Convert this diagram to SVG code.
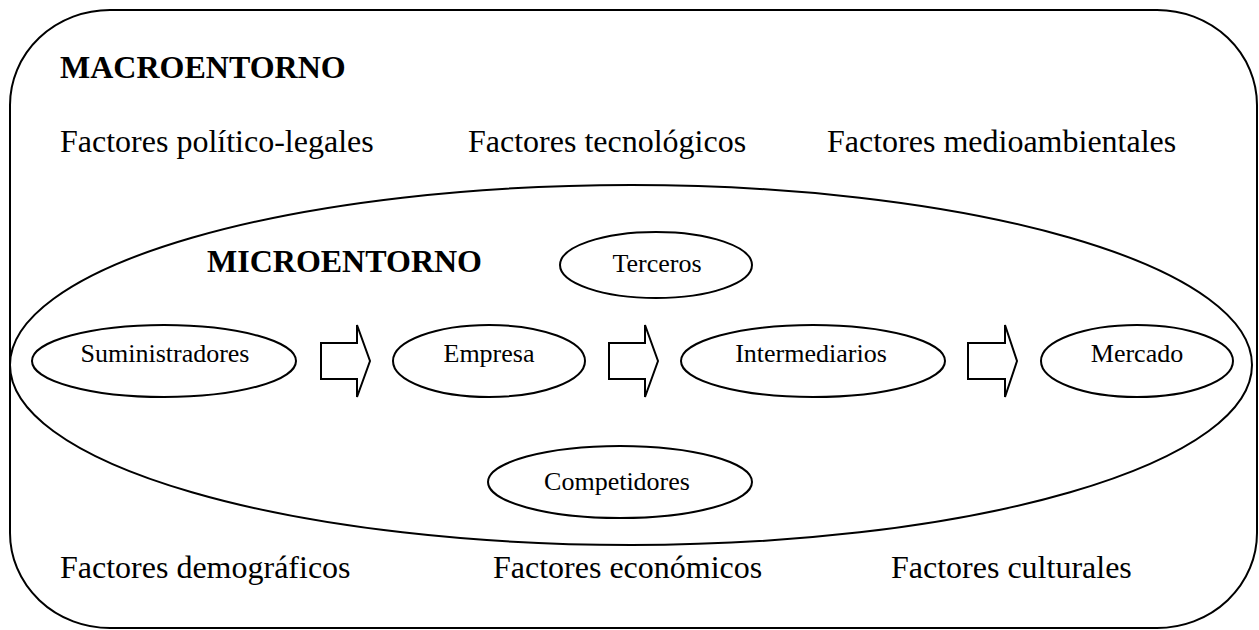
<svg xmlns="http://www.w3.org/2000/svg" width="1259" height="630" viewBox="0 0 1259 630">
<style>
.ln{fill:none;stroke:#000;stroke-width:2}
.nd{fill:#fff;stroke:#000;stroke-width:2}
.big{font-family:"Liberation Serif","Times New Roman",serif;font-size:32px;fill:#000}
.bold{font-weight:bold}
.sm{font-family:"Liberation Serif","Times New Roman",serif;font-size:26px;fill:#000;text-anchor:middle}
</style>
<rect width="1259" height="630" fill="#fff"/>
<g id="macroentorno">
<rect class="ln" x="10" y="10" width="1247" height="618" rx="100" ry="95"/>
<text class="big bold" x="60" y="78">MACROENTORNO</text>
<text class="big" x="60" y="152">Factores político-legales</text>
<text class="big" x="468" y="152">Factores tecnológicos</text>
<text class="big" x="827" y="152">Factores medioambientales</text>
<text class="big" x="60" y="578">Factores demográficos</text>
<text class="big" x="493" y="578">Factores económicos</text>
<text class="big" x="891" y="578">Factores culturales</text>
</g>
<g id="microentorno">
<ellipse class="ln" cx="631" cy="365" rx="621" ry="180"/>
<text class="big bold" x="207" y="272">MICROENTORNO</text>
</g>
<g id="terceros">
<ellipse class="nd" cx="656" cy="265" rx="96" ry="33"/>
<text class="sm" x="657" y="272">Terceros</text>
</g>
<g id="suministradores">
<ellipse class="nd" cx="164" cy="361" rx="132" ry="36"/>
<text class="sm" x="165" y="362">Suministradores</text>
</g>
<g id="empresa">
<ellipse class="nd" cx="489" cy="361" rx="96" ry="36"/>
<text class="sm" x="489" y="362">Empresa</text>
</g>
<g id="intermediarios">
<ellipse class="nd" cx="813" cy="361" rx="132" ry="36"/>
<text class="sm" x="811" y="362">Intermediarios</text>
</g>
<g id="mercado">
<ellipse class="nd" cx="1137" cy="361" rx="96" ry="36"/>
<text class="sm" x="1137" y="362">Mercado</text>
</g>
<g id="competidores">
<ellipse class="nd" cx="620" cy="482" rx="132" ry="36"/>
<text class="sm" x="617" y="490">Competidores</text>
</g>
<g id="connectors">
<polygon class="nd" points="321,343 357,343 357,325 370,361 357,397 357,379 321,379"/>
<polygon class="nd" points="609,343 645,343 645,325 658,361 645,397 645,379 609,379"/>
<polygon class="nd" points="968,343 1005,343 1005,325 1017,361 1005,397 1005,379 968,379"/>
</g>
</svg>
